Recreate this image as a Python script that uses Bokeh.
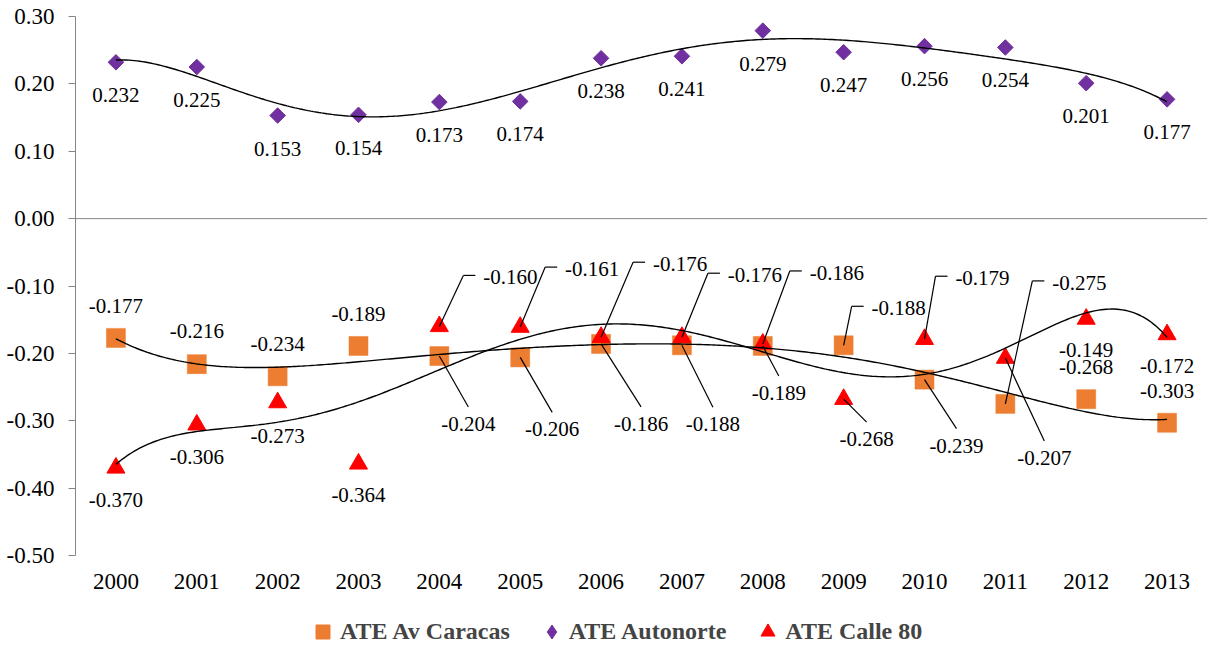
import numpy as np
from bokeh.plotting import figure
from bokeh.layouts import column
from bokeh.models import (Range1d, FixedTicker, Span, Legend, LegendItem,
                          NumeralTickFormatter)
from bokeh.embed import file_html
from bokeh.resources import INLINE

# ---------------- data ----------------
years = [2000, 2001, 2002, 2003, 2004, 2005, 2006, 2007, 2008, 2009, 2010, 2011, 2012, 2013]
caracas = [-0.177, -0.216, -0.234, -0.189, -0.204, -0.206, -0.186, -0.188, -0.189, -0.188,
           -0.239, -0.275, -0.268, -0.303]
autonorte = [0.232, 0.225, 0.153, 0.154, 0.173, 0.174, 0.238, 0.241, 0.279, 0.247,
             0.256, 0.254, 0.201, 0.177]
calle80 = [-0.370, -0.306, -0.273, -0.364, -0.160, -0.161, -0.176, -0.176, -0.186, -0.268,
           -0.179, -0.207, -0.149, -0.172]
y_ticks = [-0.5, -0.4, -0.3, -0.2, -0.1, 0.0, 0.1, 0.2, 0.3]
series_names = ["ATE Av Caracas", "ATE Autonorte", "ATE Calle 80"]

# ---------------- label placement (screen px offsets, +dy = down) ----------------
caracas_lab = [(0, -32, None), (0, -33, None), (0, -32, None), (0, -32, None),
               (29, 68, "down"), (32, 72, "down"), (40, 80, "down"), (31, 79, "down"),
               (16, 47, "down"), (55, -37, "elbow"), (32, 66, "down"), (74, -121, "elbow"),
               (0, -32, None), (0, -32, None)]
autonorte_lab = [(0, 33, None)] * 14
calle80_lab = [(0, 32, None), (0, 32, None), (0, 33, None), (0, 31, None),
               (71, -49, "elbow"), (72, -58, "elbow"), (79, -73, "elbow"), (73, -62, "elbow"),
               (74, -71, "elbow"), (23, 40, "down"), (58, -61, "elbow"), (39, 100, "down"),
               (0, 31, None), (0, 31, None)]

# ---------------- layout ----------------
W = 1207
H_MAIN, H_LEG = 598, 47
L, T = 75, 16
B = H_MAIN - 555
FW, FH = W - L, H_MAIN - T - B
X0, X1 = 1999.5, 2013.5
Y0, Y1 = -0.5, 0.3
px_x = (X1 - X0) / FW
px_y = (Y1 - Y0) / FH

FONT = "Liberation Serif"
C_CAR, C_AUT, C_CAL = "#ED7D31", "#7030A0", "#FF0000"

p = figure(width=W, height=H_MAIN, x_range=Range1d(X0, X1), y_range=Range1d(Y0, Y1),
           output_backend="svg", toolbar_location=None,
           min_border_left=L, min_border_right=0, min_border_top=T, min_border_bottom=B)
p.outline_line_color = None
p.xgrid.visible = False
p.ygrid.visible = False

# y axis
p.yaxis.ticker = FixedTicker(ticks=y_ticks)
p.yaxis.formatter = NumeralTickFormatter(format="0.00")
p.yaxis.axis_line_color = "#868686"
p.yaxis.major_tick_line_color = "#868686"
p.yaxis.major_tick_out = 7
p.yaxis.major_tick_in = 0
p.yaxis.minor_tick_line_color = None
p.yaxis.major_label_standoff = 14
p.yaxis.major_label_text_font = FONT
p.yaxis.major_label_text_font_size = "23px"
p.yaxis.major_label_text_color = "black"

# x axis
p.xaxis.ticker = FixedTicker(ticks=years)
p.xaxis.axis_line_color = None
p.xaxis.major_tick_line_color = None
p.xaxis.minor_tick_line_color = None
p.xaxis.major_label_standoff = 12
p.xaxis.major_label_text_font = FONT
p.xaxis.major_label_text_font_size = "23px"
p.xaxis.major_label_text_color = "black"

p.add_layout(Span(location=0, dimension="width", line_color="#868686", line_width=1))

# markers
p.scatter(years, caracas, marker="square", size=19, fill_color=C_CAR,
          line_color=C_CAR, line_alpha=0.5)
p.scatter(years, autonorte, marker="square", angle=np.pi / 4, size=11,
          fill_color=C_AUT, line_color=C_AUT)
p.scatter(years, calle80, marker="triangle", size=18, fill_color=C_CAL, line_color=C_CAL)

# polynomial trend lines (fitted from the data)
xs = np.linspace(2000, 2013, 400)
yrs = np.array(years, dtype=float)
for vals in (caracas, autonorte, calle80):
    c = np.polyfit(yrs - 2000, np.array(vals), 6)
    p.line(xs, np.polyval(c, xs - 2000), line_color="black", line_width=1.4)

# data labels + leader lines
tx, ty, tt = [], [], []
sx0, sy0, sx1, sy1 = [], [], [], []
for vals, labs in ((caracas, caracas_lab), (autonorte, autonorte_lab), (calle80, calle80_lab)):
    for yr, v, (dx, dy, kind) in zip(years, vals, labs):
        tx.append(yr + dx * px_x)
        ty.append(v - dy * px_y)
        tt.append(f"{v:.3f}")
        if kind == "down":
            sx0.append(yr); sy0.append(v)
            sx1.append(yr + dx * px_x); sy1.append(v - (dy - 17) * px_y)
        elif kind == "elbow":
            ex, ey = yr + (dx - 47) * px_x, v - (dy - 2) * px_y
            hx = yr + (dx - 35) * px_x
            sx0 += [yr, ex]; sy0 += [v, ey]
            sx1 += [ex, hx]; sy1 += [ey, ey]

p.segment(sx0, sy0, sx1, sy1, line_color="black", line_width=1.2)
p.text(x=tx, y=ty, text=tt, text_font=FONT, text_font_size="21px",
       text_align="center", text_baseline="middle", text_color="black")

# ---------------- legend strip ----------------
pl = figure(width=W, height=H_LEG, x_range=Range1d(0, 1), y_range=Range1d(0, 1),
            x_axis_type=None, y_axis_type=None, output_backend="svg",
            toolbar_location=None, min_border=0)
pl.outline_line_color = None
pl.xgrid.visible = False
pl.ygrid.visible = False
nan = [float("nan")]
g_car = pl.scatter(nan, nan, marker="square", fill_color=C_CAR, line_color=C_CAR)
g_aut = pl.scatter(nan, nan, marker="diamond", fill_color=C_AUT, line_color=C_AUT)
g_cal = pl.scatter(nan, nan, marker="triangle", fill_color=C_CAL, line_color=C_CAL)

legend = Legend(items=[LegendItem(label=series_names[0], renderers=[g_car]),
                       LegendItem(label=series_names[1], renderers=[g_aut]),
                       LegendItem(label=series_names[2], renderers=[g_cal])],
                location=(230, -4), orientation="horizontal",
                border_line_color=None, background_fill_alpha=0,
                label_text_font=FONT, label_text_font_style="bold",
                label_text_font_size="24px", glyph_width=35, glyph_height=35,
                label_standoff=0, spacing=24, padding=0, margin=0)
pl.add_layout(legend)

layout = column(p, pl, spacing=0)
open("out.html", "w").write(file_html(layout, INLINE))
